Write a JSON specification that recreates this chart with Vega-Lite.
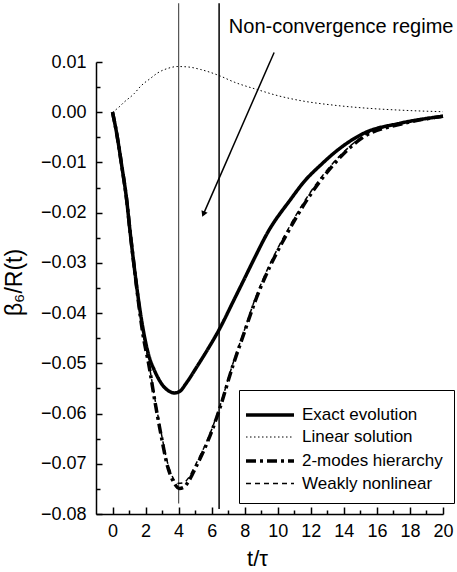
{
  "$schema": "https://vega.github.io/schema/vega-lite/v6.json",
  "width": 347,
  "height": 452,
  "autosize": {"type": "none"},
  "padding": {"left": 96, "top": 62, "right": 14, "bottom": 58},
  "background": "white",
  "config": {
    "view": {"stroke": null},
    "font": "Liberation Sans",
    "axis": {
      "grid": false,
      "domainColor": "black",
      "domainWidth": 1.5,
      "tickColor": "black",
      "tickWidth": 1.5,
      "labelFont": "Liberation Sans",
      "labelFontSize": 18,
      "labelColor": "black",
      "titleFont": "Liberation Sans",
      "titleFontWeight": "normal",
      "titleColor": "black"
    },
    "legend": {
      "title": null,
      "strokeColor": "black",
      "fillColor": "white",
      "padding": 11,
      "labelFontSize": 17,
      "labelFont": "Liberation Sans",
      "labelColor": "black",
      "symbolType": "M-1.5,0H2.5",
      "symbolSize": 576,
      "symbolStrokeColor": "black",
      "symbolFillColor": "transparent",
      "labelOffset": 24,
      "rowPadding": 1.5,
      "labelLimit": 300
    }
  },
  "datasets": {
    "curves": [
      {"series": "Exact evolution", "t": 0, "v": 0},
      {"series": "Exact evolution", "t": 0.24, "v": -0.004},
      {"series": "Exact evolution", "t": 0.56, "v": -0.0107},
      {"series": "Exact evolution", "t": 0.85, "v": -0.0173},
      {"series": "Exact evolution", "t": 1.07, "v": -0.024},
      {"series": "Exact evolution", "t": 1.31, "v": -0.0307},
      {"series": "Exact evolution", "t": 1.57, "v": -0.0373},
      {"series": "Exact evolution", "t": 1.85, "v": -0.0432},
      {"series": "Exact evolution", "t": 2.2, "v": -0.0485},
      {"series": "Exact evolution", "t": 2.55, "v": -0.0515},
      {"series": "Exact evolution", "t": 3.02, "v": -0.0543},
      {"series": "Exact evolution", "t": 3.4, "v": -0.0555},
      {"series": "Exact evolution", "t": 3.75, "v": -0.0559},
      {"series": "Exact evolution", "t": 4.1, "v": -0.0555},
      {"series": "Exact evolution", "t": 4.45, "v": -0.054},
      {"series": "Exact evolution", "t": 5.14, "v": -0.0505},
      {"series": "Exact evolution", "t": 5.8, "v": -0.047},
      {"series": "Exact evolution", "t": 6.45, "v": -0.0433},
      {"series": "Exact evolution", "t": 7.36, "v": -0.0373},
      {"series": "Exact evolution", "t": 7.96, "v": -0.0333},
      {"series": "Exact evolution", "t": 8.6, "v": -0.029},
      {"series": "Exact evolution", "t": 9.38, "v": -0.024},
      {"series": "Exact evolution", "t": 10.79, "v": -0.0173},
      {"series": "Exact evolution", "t": 11.6, "v": -0.0138},
      {"series": "Exact evolution", "t": 12.6, "v": -0.0105},
      {"series": "Exact evolution", "t": 13.6, "v": -0.0076},
      {"series": "Exact evolution", "t": 15.2, "v": -0.0042},
      {"series": "Exact evolution", "t": 17.4, "v": -0.0022},
      {"series": "Exact evolution", "t": 20, "v": -0.0008},

      {"series": "Linear solution", "t": 0, "v": 0},
      {"series": "Linear solution", "t": 0.35, "v": 0.0009},
      {"series": "Linear solution", "t": 0.7, "v": 0.002},
      {"series": "Linear solution", "t": 1.31, "v": 0.0037},
      {"series": "Linear solution", "t": 1.71, "v": 0.0052},
      {"series": "Linear solution", "t": 2.32, "v": 0.0068},
      {"series": "Linear solution", "t": 2.72, "v": 0.0078},
      {"series": "Linear solution", "t": 3.32, "v": 0.0087},
      {"series": "Linear solution", "t": 3.95, "v": 0.0091},
      {"series": "Linear solution", "t": 4.6, "v": 0.009},
      {"series": "Linear solution", "t": 5.34, "v": 0.0085},
      {"series": "Linear solution", "t": 6.45, "v": 0.0073},
      {"series": "Linear solution", "t": 7.36, "v": 0.006},
      {"series": "Linear solution", "t": 8.77, "v": 0.0045},
      {"series": "Linear solution", "t": 10, "v": 0.0033},
      {"series": "Linear solution", "t": 11.4, "v": 0.0023},
      {"series": "Linear solution", "t": 13.4, "v": 0.0014},
      {"series": "Linear solution", "t": 15.4, "v": 0.0008},
      {"series": "Linear solution", "t": 17.5, "v": 0.0004},
      {"series": "Linear solution", "t": 20, "v": 0.0001},

      {"series": "2-modes hierarchy", "t": 0, "v": 0},
      {"series": "2-modes hierarchy", "t": 0.24, "v": -0.004},
      {"series": "2-modes hierarchy", "t": 0.56, "v": -0.0107},
      {"series": "2-modes hierarchy", "t": 0.85, "v": -0.0173},
      {"series": "2-modes hierarchy", "t": 1.07, "v": -0.024},
      {"series": "2-modes hierarchy", "t": 1.31, "v": -0.0307},
      {"series": "2-modes hierarchy", "t": 1.55, "v": -0.0373},
      {"series": "2-modes hierarchy", "t": 1.83, "v": -0.044},
      {"series": "2-modes hierarchy", "t": 2.22, "v": -0.0507},
      {"series": "2-modes hierarchy", "t": 2.55, "v": -0.0573},
      {"series": "2-modes hierarchy", "t": 2.92, "v": -0.064},
      {"series": "2-modes hierarchy", "t": 3.33, "v": -0.0705},
      {"series": "2-modes hierarchy", "t": 3.73, "v": -0.0738},
      {"series": "2-modes hierarchy", "t": 4.05, "v": -0.0749},
      {"series": "2-modes hierarchy", "t": 4.3, "v": -0.0747},
      {"series": "2-modes hierarchy", "t": 4.6, "v": -0.0735},
      {"series": "2-modes hierarchy", "t": 5.04, "v": -0.0707},
      {"series": "2-modes hierarchy", "t": 5.95, "v": -0.064},
      {"series": "2-modes hierarchy", "t": 6.47, "v": -0.0592},
      {"series": "2-modes hierarchy", "t": 7.26, "v": -0.0507},
      {"series": "2-modes hierarchy", "t": 7.96, "v": -0.044},
      {"series": "2-modes hierarchy", "t": 8.67, "v": -0.0373},
      {"series": "2-modes hierarchy", "t": 9.17, "v": -0.0333},
      {"series": "2-modes hierarchy", "t": 10.59, "v": -0.024},
      {"series": "2-modes hierarchy", "t": 11.8, "v": -0.0173},
      {"series": "2-modes hierarchy", "t": 13.3, "v": -0.0107},
      {"series": "2-modes hierarchy", "t": 15.3, "v": -0.0047},
      {"series": "2-modes hierarchy", "t": 17.4, "v": -0.0024},
      {"series": "2-modes hierarchy", "t": 20, "v": -0.0008},

      {"series": "Weakly nonlinear", "t": 0, "v": 0},
      {"series": "Weakly nonlinear", "t": 0.24, "v": -0.004},
      {"series": "Weakly nonlinear", "t": 0.56, "v": -0.0107},
      {"series": "Weakly nonlinear", "t": 0.85, "v": -0.0173},
      {"series": "Weakly nonlinear", "t": 1.07, "v": -0.024},
      {"series": "Weakly nonlinear", "t": 1.31, "v": -0.0307},
      {"series": "Weakly nonlinear", "t": 1.55, "v": -0.0373},
      {"series": "Weakly nonlinear", "t": 1.83, "v": -0.0438},
      {"series": "Weakly nonlinear", "t": 2.22, "v": -0.0504},
      {"series": "Weakly nonlinear", "t": 2.55, "v": -0.0568},
      {"series": "Weakly nonlinear", "t": 2.92, "v": -0.0634},
      {"series": "Weakly nonlinear", "t": 3.33, "v": -0.0698},
      {"series": "Weakly nonlinear", "t": 3.73, "v": -0.0732},
      {"series": "Weakly nonlinear", "t": 4.0, "v": -0.0739},
      {"series": "Weakly nonlinear", "t": 4.3, "v": -0.0738},
      {"series": "Weakly nonlinear", "t": 4.6, "v": -0.0728},
      {"series": "Weakly nonlinear", "t": 5.04, "v": -0.0701},
      {"series": "Weakly nonlinear", "t": 5.95, "v": -0.0636},
      {"series": "Weakly nonlinear", "t": 6.47, "v": -0.0588},
      {"series": "Weakly nonlinear", "t": 7.26, "v": -0.0503},
      {"series": "Weakly nonlinear", "t": 7.96, "v": -0.0436},
      {"series": "Weakly nonlinear", "t": 8.67, "v": -0.0368},
      {"series": "Weakly nonlinear", "t": 9.17, "v": -0.0328},
      {"series": "Weakly nonlinear", "t": 10.59, "v": -0.0235},
      {"series": "Weakly nonlinear", "t": 11.8, "v": -0.0168},
      {"series": "Weakly nonlinear", "t": 13.3, "v": -0.0103},
      {"series": "Weakly nonlinear", "t": 15.3, "v": -0.0045},
      {"series": "Weakly nonlinear", "t": 17.4, "v": -0.0023},
      {"series": "Weakly nonlinear", "t": 20, "v": -0.0008}
    ]
  },
  "encoding": {
    "x": {
      "field": "t", "type": "quantitative",
      "scale": {"domain": [-1, 20], "nice": false, "zero": false},
      "axis": {
        "title": "t/τ",
        "titleFontSize": 22,
        "titleX": 161,
        "titleY": 51,
        "titleBaseline": "alphabetic",
        "values": [0,1,2,3,4,5,6,7,8,9,10,11,12,13,14,15,16,17,18,19,20],
        "labelExpr": "datum.value % 2 == 0 ? datum.label : ''",
        "tickSize": {"condition": {"test": "datum.value % 2 == 0", "value": -7}, "value": -4},
        "labelPadding": 15,
        "labelFlush": false,
        "labelOverlap": false
      }
    },
    "y": {
      "field": "v", "type": "quantitative",
      "scale": {"domain": [-0.08, 0.01], "nice": false, "zero": false},
      "axis": {
        "title": "β₆/R(t)",
        "titleFontSize": 23,
        "titleX": -70,
        "titleY": 220,
        "values": [-0.08,-0.075,-0.07,-0.065,-0.06,-0.055,-0.05,-0.045,-0.04,-0.035,-0.03,-0.025,-0.02,-0.015,-0.01,-0.005,0,0.005,0.01],
        "format": ".2f",
        "labelExpr": "abs(datum.value*100 - round(datum.value*100)) < 0.01 ? datum.label : ''",
        "tickSize": {"condition": {"test": "abs(datum.value*100 - round(datum.value*100)) < 0.01", "value": -6}, "value": -4},
        "labelPadding": 16,
        "labelFlush": false,
        "labelOverlap": false
      }
    }
  },
  "layer": [
    {
      "data": {"values": [{"t": 4, "v": 0.0217, "v2": -0.0779}]},
      "mark": {"type": "rule", "color": "#555555", "strokeWidth": 1.2},
      "encoding": {"y2": {"field": "v2"}}
    },
    {
      "data": {"values": [{"t": 6.45, "v": 0.0217, "v2": -0.079}]},
      "mark": {"type": "rule", "color": "black", "strokeWidth": 1.5},
      "encoding": {"y2": {"field": "v2"}}
    },
    {
      "data": {"name": "curves"},
      "mark": {"type": "line", "color": "black", "interpolate": "monotone"},
      "encoding": {
        "detail": {"field": "series"},
        "strokeDash": {
          "field": "series", "type": "nominal",
          "scale": {
            "domain": ["Exact evolution", "Linear solution", "2-modes hierarchy", "Weakly nonlinear"],
            "range": [[1, 0], [1.5, 2.5], [10, 4, 3, 4], [5, 4]]
          },
          "legend": {"orient": "none", "legendX": 143, "legendY": 328}
        },
        "strokeWidth": {
          "field": "series", "type": "nominal",
          "scale": {
            "type": "ordinal",
            "domain": ["Exact evolution", "Linear solution", "2-modes hierarchy", "Weakly nonlinear"],
            "range": [3.5, 1, 3.5, 1.5]
          },
          "legend": {"orient": "none", "legendX": 143, "legendY": 328}
        }
      }
    },
    {
      "data": {"values": [{"t": 9.78, "v": 0.0119, "t2": 5.5, "v2": -0.0203}]},
      "mark": {"type": "rule", "color": "black", "strokeWidth": 1.5},
      "encoding": {
        "x2": {"field": "t2"},
        "y2": {"field": "v2"}
      }
    },
    {
      "data": {"values": [{"t": 5.5, "v": -0.0203}]},
      "mark": {"type": "point", "shape": "triangle-down", "filled": true, "color": "black", "size": 45, "angle": 23.7, "opacity": 1}
    },
    {
      "data": {"values": [{"t": 7.04, "v": 0.0157, "label": "Non-convergence regime"}]},
      "mark": {"type": "text", "align": "left", "baseline": "alphabetic", "fontSize": 20, "font": "Liberation Sans", "color": "black"},
      "encoding": {
        "text": {"field": "label"}
      }
    }
  ]
}
